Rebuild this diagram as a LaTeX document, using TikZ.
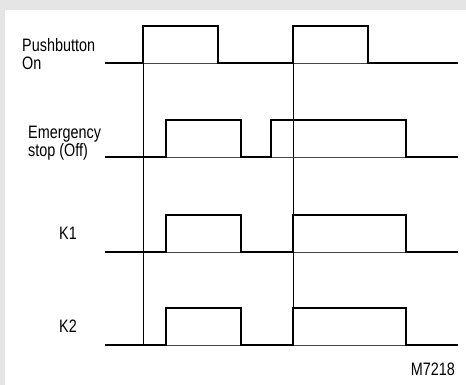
\documentclass[tikz,border=0pt]{standalone}
\usepackage{fontspec}
\setmainfont[FakeStretch=0.8]{Liberation Sans}
\usetikzlibrary{positioning}
\definecolor{panelgrey}{RGB}{229,229,229}
\definecolor{basegrey}{RGB}{70,70,70}

\begin{document}
\begin{tikzpicture}[x=1pt, y=-1pt,
	sigline/.style={line width=2.8pt, line join=miter, black},
	refline/.style={line width=0.9pt, basegrey},
	markline/.style={line width=0.9pt, black},
	lbl/.style={inner sep=0pt, font=\fontsize{18}{18.4}\selectfont, align=left}]
				
				% frame
				\path[fill=panelgrey] (0,0) rectangle (466,385);
				\path[fill=white] (5,10) rectangle (466,385);
				
				% geometry
				\def\xs{105}   % left end of every trace
				\def\xe{458}   % right end of every trace
				\def\amp{37}   % pulse height
				
				% one trace with low level #1 and edges at #2, #3, #4, #5
				\newcommand{\pulsetrain}[5]{%
					\draw[refline] (\xs,#1) -- (\xe,#1);
					\draw[sigline] (\xs,#1) -| (#2,#1-\amp) -| (#3,#1) -| (#4,#1-\amp) -| (#5,#1) -- (\xe,#1);
				}
				
				% time markers
				\draw[markline] (143,26) -- (143,345);
				\draw[markline] (293,26) -- (293,345);
				
				% traces
				\pulsetrain{63}{143}{218}{293}{368}
				\pulsetrain{157}{166}{241}{271}{406}
				\pulsetrain{252}{166}{241}{293}{406}
				\pulsetrain{345}{166}{241}{293}{406}
				
				% labels (base is the last line)
				\node[lbl, anchor=base west] (push) at (22,69.5) {Pushbutton\\On};
				\node[lbl, anchor=base west] (estop) at (28,156.5) {Emergency\\stop (Off)};
				\node[lbl, anchor=base west] (kone) at (59,239) {K1};
				\node[lbl, anchor=base west] (ktwo) at (59,332) {K2};
				\node[lbl, anchor=base east] (code) at (455,375) {M7218};
				
			\end{tikzpicture}
\end{document}
